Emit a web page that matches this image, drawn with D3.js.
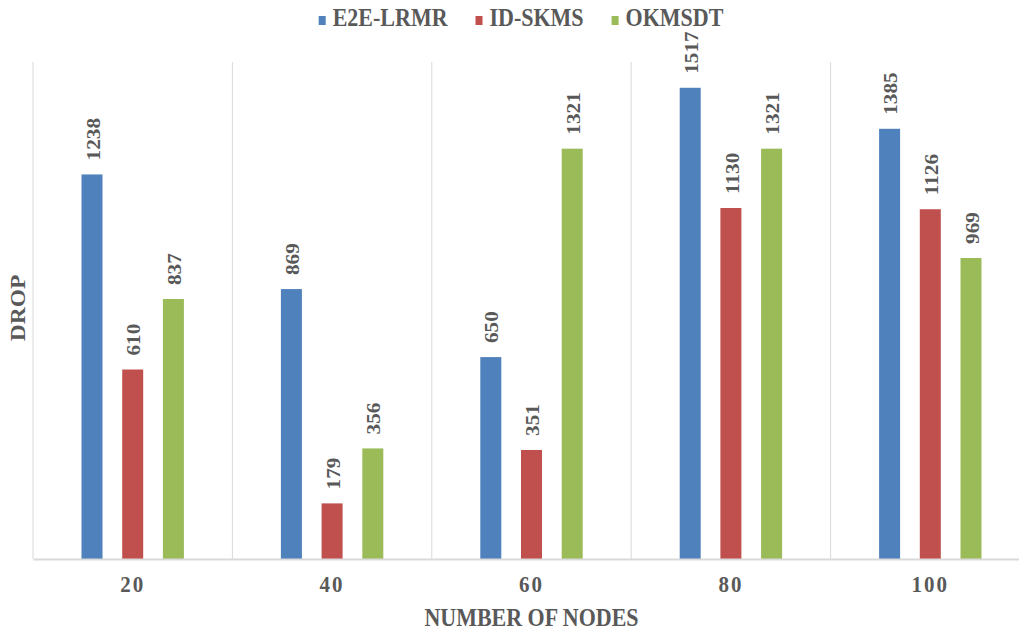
<!DOCTYPE html>
<html>
<head>
<meta charset="utf-8">
<script src="https://cdn.jsdelivr.net/npm/d3@7"></script>
<style>
  body { margin: 0; background: #fff; }
  text { font-family: "Liberation Serif", "Times New Roman", serif; font-weight: bold; fill: #595959; }
</style>
</head>
<body>
<div id="chart"></div>
<script>
// data
var categories = ["20", "40", "60", "80", "100"];
var seriesNames = ["E2E-LRMR", "ID-SKMS", "OKMSDT"];
var e2eValues = [1238, 869, 650, 1517, 1385];
var idskmsValues = [610, 179, 351, 1130, 1126];
var okmsdtValues = [837, 356, 1321, 1321, 969];
var colors = ["#4f81bd", "#c0504d", "#9bbb59"];

var W = 1019, H = 630;
var plot = {left: 33, right: 1030, top: 62, bottom: 559};
var stretch = 1.12; // picture is a bit taller than wide

var svg = d3.select("#chart").append("svg")
    .attr("width", W)
    .attr("height", H);

var rows = categories.map(function (c, i) {
  return { cat: c, vals: [e2eValues[i], idskmsValues[i], okmsdtValues[i]] };
});

var x0 = d3.scaleBand().domain(categories).range([plot.left, plot.right]).padding(0);
var x1 = d3.scaleBand().domain(seriesNames).range([0, 102.4]).paddingInner(0.484).paddingOuter(0);
var y = d3.scaleLinear().domain([0, 1600]).range([plot.bottom, plot.top]);

// vertical grid lines at category borders
var borders = categories.map(function (c) { return x0(c); }).concat([x0(categories[4]) + x0.bandwidth()]);
svg.append("g").selectAll("line")
  .data(borders)
  .enter().append("line")
    .attr("x1", function (d) { return d; })
    .attr("x2", function (d) { return d; })
    .attr("y1", plot.top)
    .attr("y2", plot.bottom)
    .attr("stroke", "#d9d9d9")
    .attr("stroke-width", 1);

// bars
var groups = svg.append("g").selectAll("g")
  .data(rows)
  .enter().append("g")
    .attr("transform", function (d) {
      return "translate(" + (x0(d.cat) + x0.bandwidth() / 2 - 51.2) + ",0)";
    });

var cells = groups.selectAll("g")
  .data(function (d) {
    return d.vals.map(function (v, i) { return { name: seriesNames[i], value: v, i: i }; });
  })
  .enter().append("g");

cells.append("rect")
    .attr("x", function (d) { return x1(d.name); })
    .attr("y", function (d) { return y(d.value); })
    .attr("width", x1.bandwidth())
    .attr("height", function (d) { return plot.bottom - y(d.value); })
    .attr("fill", function (d) { return colors[d.i]; });

// value labels, rotated
cells.append("text")
    .attr("transform", function (d) {
      return "translate(" + (x1(d.name) + x1.bandwidth() / 2 + 1) + "," + (y(d.value) - 14) + ") scale(1," + stretch + ") rotate(-90)";
    })
    .attr("dy", "0.35em")
    .attr("font-size", 19)
    .text(function (d) { return d.value; });

// x axis baseline
var xAxis = d3.axisBottom(x0).tickSize(0).tickPadding(0);
var gx = svg.append("g")
    .attr("transform", "translate(0," + plot.bottom + ")")
    .call(xAxis);
gx.select(".domain").attr("stroke", "#d9d9d9").attr("stroke-width", 2);
gx.selectAll(".tick text")
    .attr("font-size", 21)
    .attr("letter-spacing", 2)
    .attr("y", 0)
    .attr("dy", 0)
    .attr("transform", "translate(0,33) scale(1," + stretch + ")")
    .style("font-family", "'Liberation Serif', serif")
    .style("font-weight", "bold")
    .attr("fill", "#595959");

// axis titles
svg.append("text")
    .attr("transform", "translate(" + ((plot.left + plot.right) / 2) + ",626) scale(1," + stretch + ")")
    .attr("text-anchor", "middle")
    .attr("font-size", 22)
    .text("NUMBER OF NODES");

svg.append("text")
    .attr("transform", "translate(25,308) scale(1," + stretch + ") rotate(-90)")
    .attr("text-anchor", "middle")
    .attr("font-size", 21)
    .text("DROP");

// legend
var legend = svg.append("g");
var lx = 0;
seriesNames.forEach(function (name, i) {
  var item = legend.append("g").attr("transform", "translate(" + lx + ",0)");
  item.append("rect")
      .attr("x", 0)
      .attr("y", 16)
      .attr("width", 7)
      .attr("height", 9)
      .attr("fill", colors[i]);
  var t = item.append("text")
      .attr("transform", "translate(14,26) scale(1," + stretch + ")")
      .attr("font-size", 22)
      .text(name);
  lx += 14 + t.node().getComputedTextLength() + 28;
});
lx -= 28;
legend.attr("transform", "translate(" + (521 - lx / 2) + ",0)");
</script>
</body>
</html>
